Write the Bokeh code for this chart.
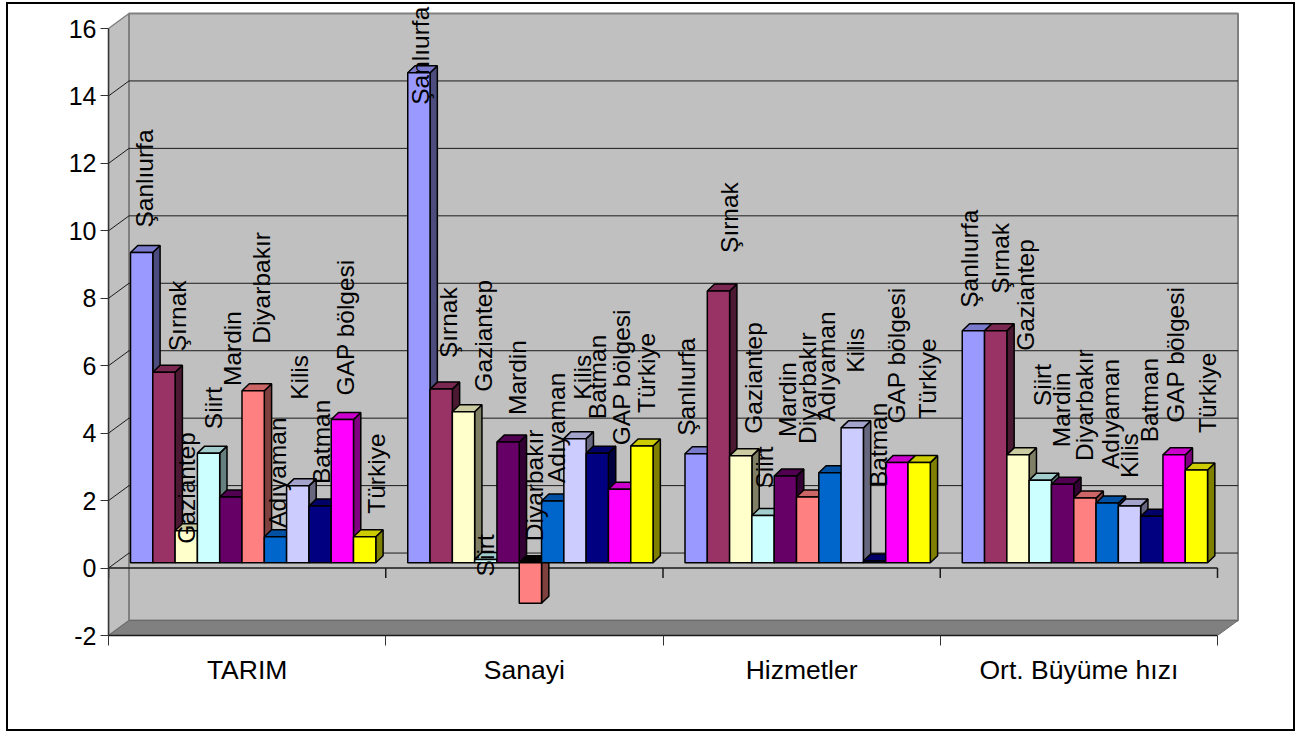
import math
from bokeh.plotting import figure
from bokeh.models import ColumnDataSource, FixedTicker, LinearAxis, Range1d
from bokeh.core.properties import value
from bokeh.embed import file_html
from bokeh.resources import INLINE

# ---- data ----
categories = ["TARIM", "Sanayi", "Hizmetler", "Ort. Büyüme hızı"]
regions = ["Şanlıurfa", "Şırnak", "Gaziantep", "Siirt", "Mardin", "Diyarbakır",
           "Adıyaman", "Kilis", "Batman", "GAP bölgesi", "Türkiye"]
tarim = [9.2, 5.65, 0.95, 3.25, 1.95, 5.1, 0.77, 2.28, 1.68, 4.25, 0.77]
sanayi = [14.53, 5.15, 4.48, 0.1, 3.58, -1.2, 1.83, 3.68, 3.25, 2.18, 3.46]
hizmetler = [3.23, 8.06, 3.17, 1.4, 2.57, 1.95, 2.67, 4.0, 0.05, 2.97, 2.97]
ort_buyume = [6.88, 6.88, 3.2, 2.45, 2.33, 1.92, 1.77, 1.68, 1.38, 3.2, 2.75]
y_ticks = [-2, 0, 2, 4, 6, 8, 10, 12, 14, 16]

# ---- styles / layout ----
colors = ["#9999FF", "#993366", "#FFFFCC", "#CCFFFF", "#660066", "#FF8080",
          "#0066CC", "#CCCCFF", "#000080", "#FF00FF", "#FFFF00"]
label_dx = [[3, 14, 0, 5, 2, 8, 2, 2, 1, 3, 12],
            [2, 7, 20, 0, 9, 4, 4, 7, 0, 2, 5],
            [-10, 11, 13, 1, 2, 0, -3, 3, 4, 0, 8],
            [-4, 5, 7, 2, -1, 0, 3, 0, -2, 1, 11]]
label_gap = [[25, 21, -13, 24, 111, 47, 9, 86, 22, 24, 23],
             [-32, 31, 20, -17, 27, 62, 18, 39, 34, 44, 33],
             [18, 38, 22, 27, 39, 53, 51, 55, 74, 39, 44],
             [23, 37, 104, 74, 37, 37, 34, 28, 74, 32, 37]]

series = [tarim, sanayi, hizmetler, ort_buyume]
W, H = 1285, 725          # canvas
OX, OY = 8, 4             # canvas origin on the page
AX_L, AX_R = 108, 1217    # front axis extent, page px
Y_M2, Y_16 = 635, 28      # y of -2 and 16, page px
PXU = (Y_16 - Y_M2) / -18.0
PXC = (AX_R - AX_L) / 4.0
FRAME_TOP = 5
WALL_X, WALL_Y = 20.5 / PXC, 15 / PXU
BAR_X0, BAR_W = 22 / PXC, 22.3 / PXC
BAR_Y0 = 5.3 / PXU
DEP_X, DEP_Y = 7.3 / PXC, 7 / PXU
FONT = "Liberation Sans"


def shade(c, f):
    r, g, b = int(c[1:3], 16), int(c[3:5], 16), int(c[5:7], 16)
    return "#%02X%02X%02X" % (int(r * f), int(g * f), int(b * f))


x_max = (W + OX - AX_L) / PXC
y_max = (Y_M2 - FRAME_TOP) / PXU - 2
p = figure(width=W, height=H, output_backend="svg", toolbar_location=None,
           x_range=Range1d(0, x_max), y_range=Range1d(-2, y_max),
           x_axis_type=None, y_axis_type=None,
           min_border_left=AX_L - OX, min_border_right=0,
           min_border_top=FRAME_TOP - OY, min_border_bottom=H + OY - Y_M2)
p.margin = (OY, 0, 0, OX)
p.styles = {"outline": "2px solid black", "outline-offset": "0px"}
p.outline_line_color = None
p.grid.visible = False
p.background_fill_color = "white"
p.border_fill_color = "white"

# walls and floor
n = len(categories)
p.patch([0, WALL_X, WALL_X, 0], [-2, -2 + WALL_Y, 16 + WALL_Y, 16],
        fill_color="#C0C0C0", line_color="#808080", line_width=1.5)
p.patch([WALL_X, n + WALL_X, n + WALL_X, WALL_X],
        [-2 + WALL_Y, -2 + WALL_Y, 16 + WALL_Y, 16 + WALL_Y],
        fill_color="#C0C0C0", line_color="#808080", line_width=2)
p.patch([0, n, n + WALL_X, WALL_X], [-2, -2, -2 + WALL_Y, -2 + WALL_Y],
        fill_color="#808080", line_color="#6A6A6A", line_width=1)
grid_vals = [t for t in y_ticks if -2 < t < 16]
p.segment([WALL_X] * len(grid_vals), [t + WALL_Y for t in grid_vals],
          [n + WALL_X] * len(grid_vals), [t + WALL_Y for t in grid_vals],
          line_color="#1A1A1A", line_width=1)
p.segment([0] * len(grid_vals), grid_vals, [WALL_X] * len(grid_vals),
          [t + WALL_Y for t in grid_vals], line_color="#1A1A1A", line_width=1)

# category axis at value 0, with its ticks pointing down
p.line([0, n], [0, 0], line_color="#1A1A1A", line_width=1.5)
tick_xs = list(range(n + 1))
p.segment(tick_xs, [0] * (n + 1), tick_xs, [-10 / PXU] * (n + 1),
          line_color="#1A1A1A", line_width=1.5)

# bars
side_x, side_y, side_c = [], [], []
top_x, top_y, top_c = [], [], []
left, right, bottom, top, front_c = [], [], [], [], []
lx, ly, lt, ldx, ldy = [], [], [], [], []
for ci, vals in enumerate(series):
    for bi, v in enumerate(vals):
        x0 = ci + BAR_X0 + bi * BAR_W
        x1 = x0 + BAR_W
        y_hi = max(v, 0) + BAR_Y0
        y_lo = min(v, 0) + BAR_Y0
        left.append(x0); right.append(x1); bottom.append(y_lo); top.append(y_hi)
        front_c.append(colors[bi])
        side_x.append([x1, x1 + DEP_X, x1 + DEP_X, x1])
        side_y.append([y_lo, y_lo + DEP_Y, y_hi + DEP_Y, y_hi])
        side_c.append(shade(colors[bi], 0.5))
        top_x.append([x0, x0 + DEP_X, x1 + DEP_X, x1])
        top_y.append([y_hi, y_hi + DEP_Y, y_hi + DEP_Y, y_hi])
        top_c.append("#000000" if v < 0 else shade(colors[bi], 0.8))
        lx.append((x0 + x1) / 2)
        ly.append(v + BAR_Y0)
        lt.append(regions[bi])
        ldx.append(label_dx[ci][bi])
        ldy.append(-label_gap[ci][bi])

p.patches(side_x, side_y, fill_color=side_c, line_color="black", line_width=1.5)
p.patches(top_x, top_y, fill_color=top_c, line_color="black", line_width=1.5)
p.quad(left=left, right=right, bottom=bottom, top=top, fill_color=front_c,
       line_color="black", line_width=1.5)

# data labels
src = ColumnDataSource(dict(x=lx, y=ly, t=lt, dx=ldx, dy=ldy))
p.text(x="x", y="y", text="t", source=src, angle=math.pi / 2, x_offset="dx", y_offset="dy",
       text_align="left", text_baseline="middle", text_color="black",
       text_font=value(FONT), text_font_size="24.5px")

# axes
ya = LinearAxis(ticker=FixedTicker(ticks=y_ticks), bounds=(-2, 16))
ya.major_label_overrides = {-2: "-2"}
ya.major_tick_in = 0
ya.major_tick_out = 8
ya.major_tick_line_color = "#333333"
ya.axis_line_color = "#333333"
ya.axis_line_width = 1.5
ya.major_label_standoff = 4
ya.major_label_text_font = FONT
ya.major_label_text_font_size = "25px"
ya.major_label_text_color = "black"
p.add_layout(ya, "left")

centres = [i + 0.5 for i in range(n)]
xa = LinearAxis(ticker=FixedTicker(ticks=centres, minor_ticks=tick_xs), bounds=(0, n))
xa.major_label_overrides = {c: t for c, t in zip(centres, categories)}
xa.major_tick_line_color = None
xa.major_tick_in = 0
xa.major_tick_out = 0
xa.minor_tick_in = 0
xa.minor_tick_out = 10
xa.minor_tick_line_color = "#333333"
xa.axis_line_color = "#1A1A1A"
xa.axis_line_width = 1.5
xa.major_label_standoff = 9
xa.major_label_text_font = FONT
xa.major_label_text_font_size = "26.5px"
xa.major_label_text_color = "black"
p.add_layout(xa, "below")

open("out.html", "w").write(file_html(p, INLINE))
